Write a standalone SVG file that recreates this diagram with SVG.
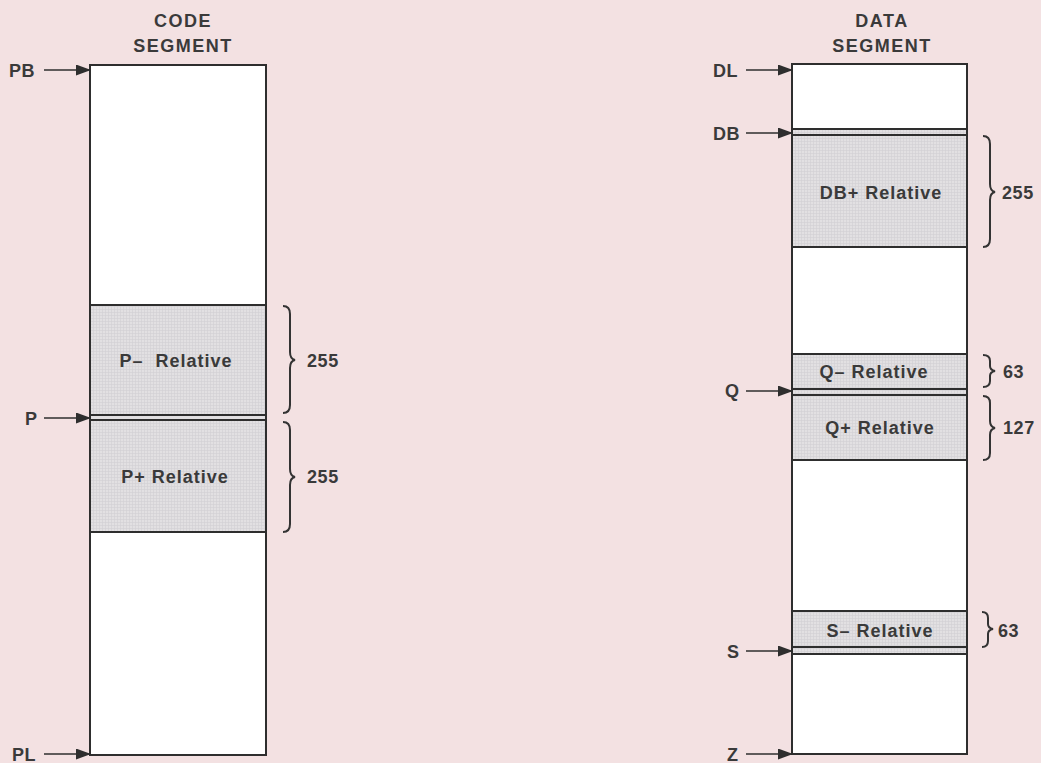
<svg xmlns="http://www.w3.org/2000/svg" width="1041" height="763" viewBox="0 0 1041 763">
<defs>
<marker id="ah" markerWidth="15" markerHeight="11" refX="14" refY="5.5" orient="auto" markerUnits="userSpaceOnUse">
<path d="M0,0 L15,5.5 L0,11 Z" fill="#2e2e2e"/>
</marker>
<pattern id="grid" width="3" height="3" patternUnits="userSpaceOnUse">
<rect width="3" height="3" fill="#e2e0e2"/>
<path d="M0,0.5 H3 M0.5,0 V3" stroke="#d2d0d3" stroke-width="0.6"/>
</pattern>
</defs>
<style>
text{font-family:"Liberation Sans",Arial,sans-serif;fill:#3a3a3a;font-size:18px;font-weight:bold;letter-spacing:0.6px}
.t{text-anchor:middle;font-size:18px;letter-spacing:1.5px}
.c{text-anchor:middle;font-size:18px;letter-spacing:1px}
.box{fill:#fff;stroke:#2e2e2e;stroke-width:2}
.sh{fill:url(#grid);stroke:#2e2e2e;stroke-width:2}
.br{stroke:#333;stroke-width:2;fill:none}
.ar{stroke:#2e2e2e;stroke-width:1.6;fill:none}
</style>
<rect width="1041" height="763" fill="#f3e1e2"/>

<g id="code-segment">
<text class="t" x="183" y="27">CODE</text>
<text class="t" x="183" y="52">SEGMENT</text>
<rect class="box" x="90" y="65" width="176" height="690"/>
<rect class="sh" x="90" y="305" width="176" height="110"/>
<rect class="sh" x="90" y="420" width="176" height="112"/>
<rect x="91" y="416" width="174" height="3" fill="#e2e0e2"/>
<text class="c" x="176" y="367" xml:space="preserve">P–  Relative</text>
<text class="c" x="175" y="483">P+ Relative</text>
</g>

<g id="code-braces">
<path class="br" d="M283,306 Q290,306 290,314 L290,352 Q290,359 295,360 Q290,361 290,368 L290,405 Q290,413 283,413"/>
<text x="307" y="367">255</text>
<path class="br" d="M283,422 Q290,422 290,430 L290,469 Q290,476 295,477 Q290,478 290,485 L290,524 Q290,532 283,532"/>
<text x="307" y="483">255</text>
</g>

<g id="data-segment">
<text class="t" x="882" y="27">DATA</text>
<text class="t" x="882" y="52">SEGMENT</text>
<rect class="box" x="792" y="64" width="175" height="690"/>
<rect class="sh" x="792" y="129" width="175" height="6"/>
<rect class="sh" x="792" y="135" width="175" height="112"/>
<rect class="sh" x="792" y="354" width="175" height="35"/>
<rect class="sh" x="792" y="389" width="175" height="6"/>
<rect class="sh" x="792" y="395" width="175" height="65"/>
<rect class="sh" x="792" y="611" width="175" height="36"/>
<rect class="sh" x="792" y="647" width="175" height="7"/>
<text class="c" x="881" y="199">DB+ Relative</text>
<text class="c" x="874" y="378">Q– Relative</text>
<text class="c" x="880" y="434">Q+ Relative</text>
<text class="c" x="880" y="637">S– Relative</text>
</g>

<g id="data-braces">
<path class="br" d="M983,136 Q990,136 990,144 L990,184 Q990,191 995,192 Q990,193 990,200 L990,239 Q990,247 983,247"/>
<text x="1002" y="199">255</text>
<path class="br" d="M983,355 Q990,355 990,361 L990,366 Q990,370 995,371 Q990,372 990,376 L990,381 Q990,387 983,387"/>
<text x="1003" y="378">63</text>
<path class="br" d="M983,396 Q990,396 990,403 L990,421 Q990,427 995,428 Q990,429 990,435 L990,453 Q990,460 983,460"/>
<text x="1003" y="434">127</text>
<path class="br" d="M982,612 Q988,612 988,618 L988,624 Q988,628 993,629 Q988,630 988,634 L988,641 Q988,647 982,647"/>
<text x="998" y="637">63</text>
</g>

<g id="pointers">
<text x="9" y="77">PB</text>
<line class="ar" x1="44" y1="70" x2="90" y2="70" marker-end="url(#ah)"/>
<text x="25" y="425">P</text>
<line class="ar" x1="44" y1="418" x2="90" y2="418" marker-end="url(#ah)"/>
<text x="12" y="761">PL</text>
<line class="ar" x1="44" y1="754" x2="90" y2="754" marker-end="url(#ah)"/>
<text x="713" y="77">DL</text>
<line class="ar" x1="746" y1="70" x2="792" y2="70" marker-end="url(#ah)"/>
<text x="713" y="140">DB</text>
<line class="ar" x1="746" y1="133" x2="792" y2="133" marker-end="url(#ah)"/>
<text x="725" y="397">Q</text>
<line class="ar" x1="746" y1="391" x2="792" y2="391" marker-end="url(#ah)"/>
<text x="727" y="658">S</text>
<line class="ar" x1="746" y1="651" x2="792" y2="651" marker-end="url(#ah)"/>
<text x="727" y="761">Z</text>
<line class="ar" x1="746" y1="754" x2="792" y2="754" marker-end="url(#ah)"/>
</g>
</svg>
